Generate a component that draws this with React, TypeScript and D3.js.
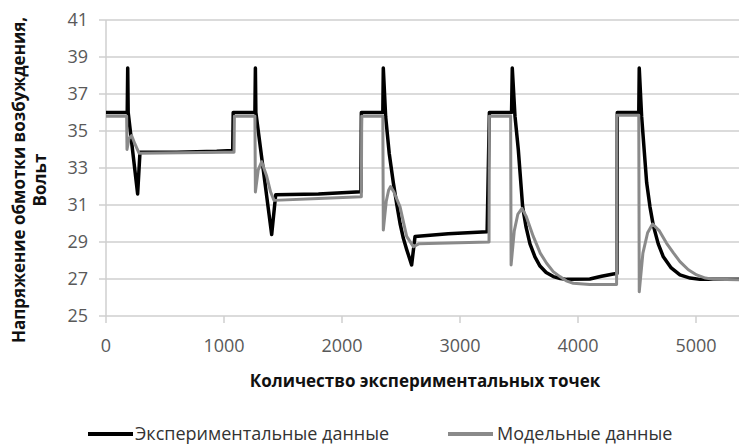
import React from "react";
import * as d3 from "d3";

const expX = [0, 180, 184, 188, 268, 288, 600, 938, 1074, 1078, 1262, 1266, 1270, 1404, 1438, 1800, 2160, 2164, 2346, 2350, 2370, 2400, 2435, 2465, 2492, 2520, 2548, 2590, 2619, 2900, 3230, 3249, 3437, 3443, 3466, 3494, 3531, 3560, 3593, 3635, 3678, 3730, 3791, 3850, 3904, 4100, 4200, 4299, 4330, 4333, 4515, 4519, 4539, 4582, 4610, 4638, 4680, 4723, 4790, 4864, 4950, 5034, 5400];
const expY = [36, 36, 38.4, 36, 31.6, 33.85, 33.85, 33.9, 33.95, 36, 36, 38.4, 36, 29.4, 31.55, 31.6, 31.72, 36, 36, 38.4, 35.77, 33.8, 32.2, 31.0, 30.0, 29.2, 28.6, 27.76, 29.3, 29.45, 29.56, 36, 36, 38.4, 35.8, 34.0, 30.9, 29.8, 28.9, 28.2, 27.7, 27.35, 27.13, 27.03, 26.98, 27.0, 27.15, 27.27, 27.3, 36, 36, 38.4, 35.8, 32.2, 30.9, 29.9, 28.9, 28.2, 27.6, 27.22, 27.05, 26.98, 26.98];

const modX = [0, 175, 178, 195, 217, 245, 280, 1000, 1085, 1088, 1262, 1266, 1290, 1319, 1360, 1395, 1424, 1800, 2164, 2167, 2346, 2350, 2375, 2395, 2412, 2440, 2492, 2548, 2605, 2650, 3246, 3249, 3429, 3433, 3460, 3490, 3525, 3560, 3621, 3680, 3734, 3790, 3847, 3900, 3960, 4100, 4327, 4330, 4515, 4519, 4550, 4590, 4632, 4690, 4751, 4810, 4864, 4935, 5006, 5080, 5147, 5400];
const modY = [35.8, 35.8, 34.0, 34.6, 34.75, 34.3, 33.8, 33.85, 33.85, 35.8, 35.8, 31.7, 32.9, 33.34, 32.6, 31.7, 31.25, 31.35, 31.45, 35.8, 35.8, 29.65, 31.2, 31.8, 32.0, 31.7, 30.9, 29.3, 28.75, 28.9, 29.0, 35.8, 35.8, 27.76, 29.6, 30.5, 30.82, 30.4, 29.3, 28.4, 27.85, 27.4, 27.13, 26.9, 26.77, 26.7, 26.7, 35.85, 35.85, 26.31, 28.4, 29.5, 29.97, 29.6, 28.93, 28.4, 27.94, 27.5, 27.22, 27.05, 26.98, 26.95];

const xTicks = [0, 1000, 2000, 3000, 4000, 5000];
const yTicks = [25, 27, 29, 31, 33, 35, 37, 39, 41];

const xTitle = "Количество экспериментальных точек";
const yTitle1 = "Напряжение обмотки возбуждения,";
const yTitle2 = "Вольт";
const legendExp = "Экспериментальные данные";
const legendMod = "Модельные данные";

export default function App() {
  const W = 739, H = 447;
  const x = d3.scaleLinear().domain([0, 5400]).range([106, 106 + 5.4 * 118]);
  const y = d3.scaleLinear().domain([25, 41]).range([316, 20]);
  const line = d3
    .line<[number, number]>()
    .x((d) => x(d[0]))
    .y((d) => y(d[1]));
  const expPts: [number, number][] = expX.map((v, i) => [v, expY[i]]);
  const modPts: [number, number][] = modX.map((v, i) => [v, modY[i]]);
  const font = "'Open Sans', sans-serif";
  return (
    <div style={{ position: "absolute", left: 0, top: 0 }}>
      <svg width={W} height={H} style={{ display: "block", background: "#fff" }}>
        {yTicks.map((t) => (
          <line key={"g" + t} x1={99} x2={W} y1={y(t)} y2={y(t)} stroke="#cfcfcf" strokeWidth={1.5} />
        ))}
        <line x1={106} x2={106} y1={y(41)} y2={y(25)} stroke="#cfcfcf" strokeWidth={1.5} />
        {xTicks.map((t) => (
          <line key={"xt" + t} x1={x(t)} x2={x(t)} y1={316} y2={323} stroke="#cfcfcf" strokeWidth={1.5} />
        ))}
        {yTicks.map((t) => (
          <text key={"yl" + t} x={88} y={y(t)} dy="0.35em" textAnchor="end" fontFamily={font} fontSize={18} fill="#595959">
            {t}
          </text>
        ))}
        {xTicks.map((t) => (
          <text key={"xl" + t} x={x(t)} y={346} dy="0.35em" textAnchor="middle" fontFamily={font} fontSize={18} fill="#595959">
            {t}
          </text>
        ))}
        <path d={line(expPts) || ""} fill="none" stroke="#000" strokeWidth={3.5} strokeLinejoin="round" />
        <path d={line(modPts) || ""} fill="none" stroke="#8a8a8a" strokeWidth={3} strokeLinejoin="round" />
        <text x={425} y={381} dy="0.35em" textAnchor="middle" fontFamily={font} fontWeight="bold" fontSize={17} fill="#111">
          {xTitle}
        </text>
        <text transform="translate(19,180) rotate(-90)" textAnchor="middle" dy="0.35em" fontFamily={font} fontWeight="bold" fontSize={17} fill="#111">
          {yTitle1}
        </text>
        <text transform="translate(40,180) rotate(-90)" textAnchor="middle" dy="0.35em" fontFamily={font} fontWeight="bold" fontSize={17} fill="#111">
          {yTitle2}
        </text>
        <line x1={88} x2={133} y1={434} y2={434} stroke="#000" strokeWidth={4} />
        <text x={135} y={434} dy="0.35em" fontFamily={font} fontSize={18} fill="#333">
          {legendExp}
        </text>
        <line x1={448} x2={493} y1={434} y2={434} stroke="#8a8a8a" strokeWidth={4} />
        <text x={497} y={434} dy="0.35em" fontFamily={font} fontSize={18} fill="#333">
          {legendMod}
        </text>
      </svg>
    </div>
  );
}
